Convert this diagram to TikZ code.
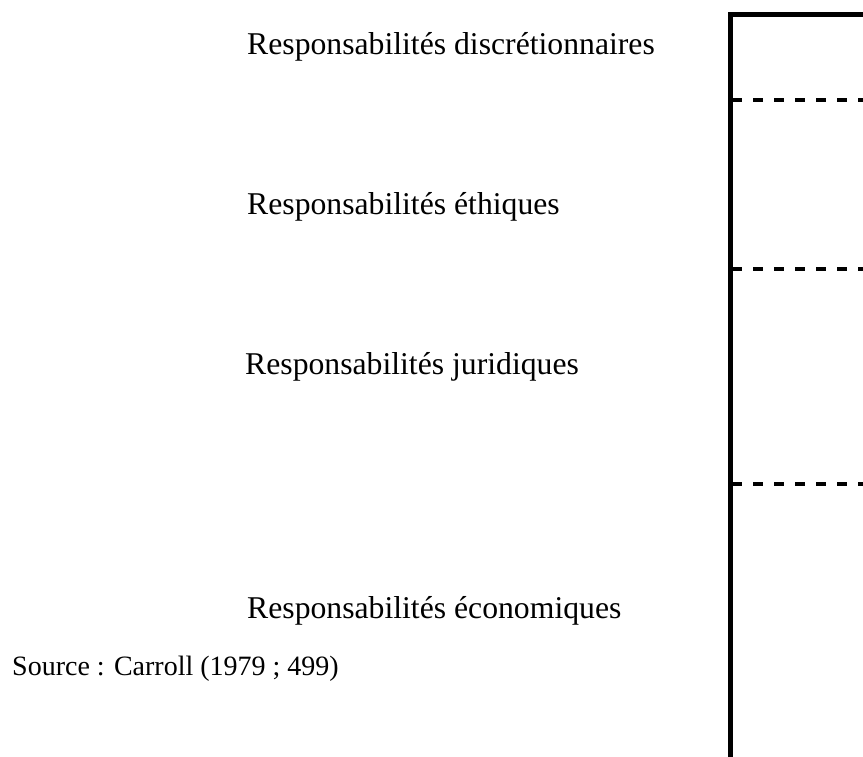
\documentclass[tikz,border=0pt]{standalone}
\usepackage{fontspec}
\setmainfont{Liberation Serif}
\begin{document}
\begin{tikzpicture}[x=1pt,y=-1pt,
  label/.style={anchor=base west,inner sep=0pt,font=\fontsize{31.7}{36}\selectfont},
  source/.style={anchor=base west,inner sep=0pt,font=\fontsize{28}{32}\selectfont},
  axisline/.style={line width=5pt},
  levelline/.style={line width=4pt,dash pattern=on 10pt off 11pt}]
\useasboundingbox (0,0) rectangle (863,756);
% level labels
\node[label] (disc) at (247,54) {Responsabilités discrétionnaires};
\node[label] (eth) at (247,214) {Responsabilités éthiques};
\node[label] (jur) at (245,374) {Responsabilités juridiques};
\node[label] (eco) at (247,618) {Responsabilités économiques};
\node[source] (src) at (12,675) {Source : Carroll (1979 ; 499)};
% pyramid edge
\coordinate (top) at (730,14);
\coordinate (bot) at (730,760);
\draw[axisline] (bot) -- (top) -- (866,14);
% dashed separators
\draw[levelline] (732,100) -- (866,100);
\draw[levelline] (732,269) -- (866,269);
\draw[levelline] (732,484) -- (866,484);
\end{tikzpicture}
\end{document}
